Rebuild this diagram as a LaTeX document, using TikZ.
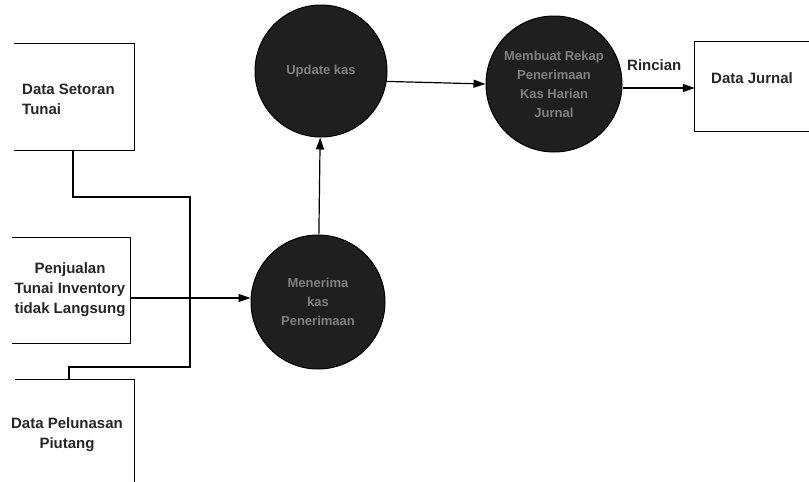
\documentclass[tikz,border=0pt]{standalone}
\usepackage{fontspec}
\setmainfont{Liberation Sans}
\usetikzlibrary{arrows.meta}
\begin{document}
\begin{tikzpicture}[x=1pt,y=-1pt,
  line/.style={draw=black,line width=1.2pt},
  arrow/.style={line,-{Triangle[length=12pt,width=8pt]}},
  boxnode/.style={draw=none,inner sep=0pt},
  lbl/.style={font=\bfseries\fontsize{15}{20}\selectfont,text=black!85,inner sep=0pt},
  proc/.style={circle,fill=black!88,draw=black,line width=1pt,inner sep=0pt,minimum size=134pt,
    font=\bfseries\fontsize{13}{19}\selectfont,text=black!50,align=center}]
\useasboundingbox (0,0) rectangle (809,482);
% boxes
\node[boxnode,minimum width=120pt,minimum height=106pt] (b1) at (74,97) {};
\node[boxnode,minimum width=118pt,minimum height=105pt] (b2) at (71,290.5) {};
\node[boxnode,minimum width=119pt,minimum height=110pt] (b3) at (74.5,435) {};
\node[boxnode,minimum width=120pt,minimum height=89pt] (b4) at (755,86.5) {};
\draw[line] (b1.north west) -- (b1.north east) -- (b1.south east) -- (b1.south west);
\draw[line] (b2.north west) -- (b2.north east) -- (b2.south east) -- (b2.south west);
\draw[line] (b3.north west) -- (b3.north east) -- (b3.south east);
\draw[line] (b4.north east) -- (b4.north west) -- (b4.south west) -- (b4.south east);
\node[lbl,anchor=west,align=left] (t1) at (22,99) {Data Setoran\\Tunai};
\node[lbl,align=center] (t2) at (70,290) {Penjualan\\Tunai Inventory\\tidak Langsung};
\node[lbl,align=center] (t3) at (67,435) {Data Pelunasan\\Piutang};
\node[lbl,anchor=west] (t4) at (711,78) {Data Jurnal};
% processes
\node[proc] (p1) at (318,302) {Menerima\\kas\\Penerimaan};
\node[proc,minimum size=132pt] (p2) at (321,71) {Update kas};
\node[proc,minimum size=136pt] (p3) at (554,84) {Membuat Rekap\\Penerimaan\\Kas Harian\\Jurnal};
% collector lines
\coordinate (c1) at (73,197);
\coordinate (c2) at (190,197);
\coordinate (c3) at (190,367);
\coordinate (c4) at (69,367);
\draw[line] (b1.south -| c1) -- (c1) -- (c2) -- (c3) -- (c4) -- (c4 |- b3.north);
% arrows
\draw[arrow] (b2.east |- 0,298) -- (p1.west |- 0,298);
\draw[arrow] (p1) -- (p2);
\draw[arrow] (p2.-9) -- (p3.west);
\draw[arrow] (p3.east |- 0,88) -- (b4.west |- 0,88);
\node[lbl,anchor=south west] (r) at (627,71) {Rincian};
\end{tikzpicture}
\end{document}
